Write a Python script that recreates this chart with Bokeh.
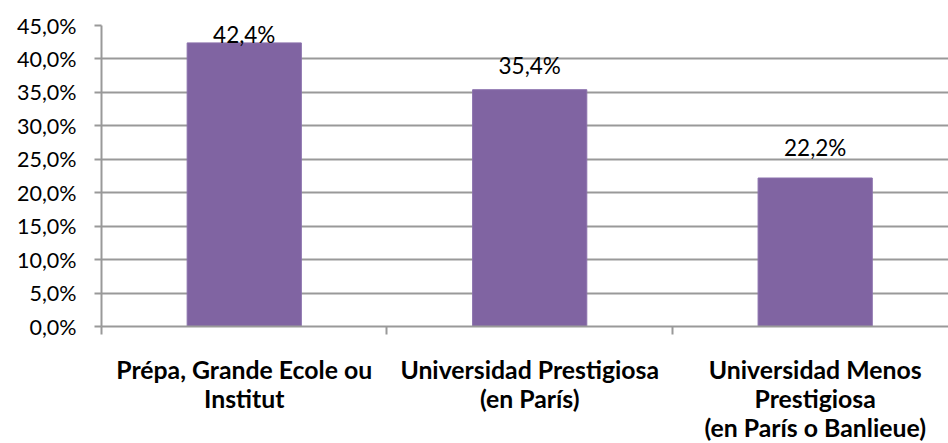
from bokeh.plotting import figure
from bokeh.models import FixedTicker, CustomJSTickFormatter, Range1d, ColumnDataSource
from bokeh.core.properties import value
from bokeh.embed import file_html
from bokeh.resources import INLINE

categories = ["Prépa, Grande Ecole ou\nInstitut",
              "Universidad Prestigiosa\n(en París)",
              "Universidad Menos\nPrestigiosa\n(en París o Banlieue)"]
percentages = [42.4, 35.4, 22.2]
y_ticks = [0, 5, 10, 15, 20, 25, 30, 35, 40, 45]

FONT = "Lato"
FRAME_H = 301
FRAME_W = 847
Y_MAX = 45
ppu = FRAME_H / Y_MAX

p = figure(frame_width=FRAME_W, frame_height=FRAME_H, output_backend="svg",
           toolbar_location=None,
           x_range=Range1d(0, 2.967), y_range=Range1d(0, Y_MAX))
p.min_border_left = 101
p.min_border_right = 0
p.min_border_top = 25
p.min_border_bottom = 10
p.outline_line_color = None
p.background_fill_color = "white"

xs = [i + 0.5 for i in range(len(categories))]
src = ColumnDataSource(dict(x=xs, top=percentages))
p.vbar(x="x", top="top", width=0.4, bottom=0, source=src,
       fill_color="#8064A2", line_color="#8A70AC", line_width=1)

# data labels: placed above the bar end, kept inside the plot area
label_gap_px = [24, 24, 31]
lab_y = [min(v + g / ppu, Y_MAX - 9 / ppu) for v, g in zip(percentages, label_gap_px)]
lab_t = [f"{v:.1f}".replace(".", ",") + "%" for v in percentages]
p.text(x=xs, y=lab_y, text=lab_t, text_align="center", text_baseline="alphabetic",
       text_font=value(FONT), text_font_size="22.5px", text_color="#000000")

grid_c = "#999999"
# y axis
p.yaxis.ticker = FixedTicker(ticks=y_ticks)
p.yaxis.formatter = CustomJSTickFormatter(code="return tick.toFixed(1).replace('.', ',') + '%';")
p.yaxis.axis_line_color = grid_c
p.yaxis.axis_line_width = 2
p.yaxis.major_tick_line_color = grid_c
p.yaxis.major_tick_line_width = 2
p.yaxis.major_tick_out = 7
p.yaxis.major_tick_in = 0
p.yaxis.minor_tick_line_color = None
p.yaxis.major_label_standoff = 18
p.yaxis.major_label_text_font = FONT
p.yaxis.major_label_text_font_size = "21.5px"
p.yaxis.major_label_text_color = "#000000"

# x axis
p.xaxis.ticker = FixedTicker(ticks=xs, minor_ticks=[0, 1, 2, 3])
p.xaxis.major_label_overrides = {x: c for x, c in zip(xs, categories)}
p.xaxis.major_label_text_font = FONT
p.xaxis.major_label_text_font_size = "24.8px"
p.xaxis.major_label_text_font_style = "bold"
p.xaxis.major_label_text_color = "#000000"
p.xaxis.major_label_text_line_height = 1.0
p.xaxis.major_label_standoff = 20
p.xaxis.major_tick_line_color = None
p.xaxis.major_tick_out = 8
p.xaxis.major_tick_in = 0
p.xaxis.axis_line_color = grid_c
p.xaxis.axis_line_width = 2
p.xaxis.minor_tick_line_color = grid_c
p.xaxis.minor_tick_line_width = 2
p.xaxis.minor_tick_out = 8
p.xaxis.minor_tick_in = 0

p.xgrid.grid_line_color = None
p.ygrid.ticker = FixedTicker(ticks=y_ticks)
p.ygrid.grid_line_color = grid_c
p.ygrid.grid_line_width = 2

open("out.html", "w").write(file_html(p, INLINE))
